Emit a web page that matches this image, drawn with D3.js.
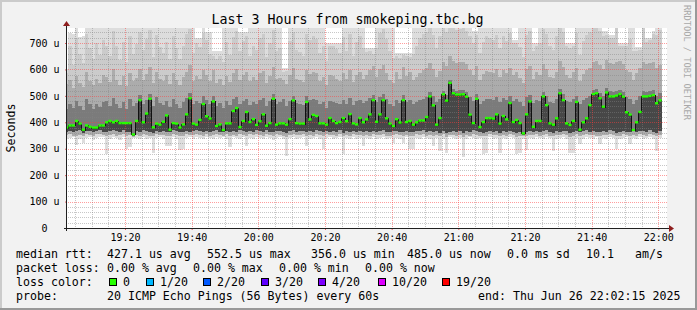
<!DOCTYPE html>
<html>
<head>
<meta charset="utf-8">
<script src="https://cdn.jsdelivr.net/npm/d3@7"></script>
<style>
html, body { margin: 0; padding: 0; background: #ffffff; }
svg { display: block; }
text { font-family: "DejaVu Sans Mono", monospace; }
</style>
</head>
<body>
<div id="chart"></div>
<script>

//******************************************************************************
//**  Data (microseconds, one entry per 60s step starting 19:02 UTC)
//******************************************************************************
var rttMedian = [
    380,388,388,405,395,372,388,383,380,380, 388,388,400,405,400,405,397,397,397,397,
    354,405,484,400,433,489,381,395,391,402, 426,372,397,395,380,392,430,491,395,391,
    409,469,423,414,479,386,392,371,396,396, 443,454,382,405,439,401,412,390,404,430,
    387,397,489,391,396,396,391,412,483,397, 395,395,477,411,428,424,396,396,391,416,
    405,397,401,416,404,431,396,392,416,400, 411,430,484,402,430,484,415,395,386,412,
    399,484,401,405,391,400,407,407,420,498, 464,391,416,506,482,549,510,505,505,506,
    497,429,397,489,382,401,416,416,414,430, 395,424,411,473,401,409,397,358,430,479,
    383,405,405,498,465,396,391,415,510,484, 396,390,405,477,372,400,415,465,507,510,
    491,459,513,498,498,501,507,497,438,429, 371,400,439,498,498,500,503,472,483
];

var rttMin = [
    336,340,344,314,338,322,342,345,334,340, 346,343,280,338,345,340,333,344,300,305,
    342,340,336,345,338,342,284,340,344,336, 312,310,345,338,296,300,342,344,338,346,
    340,335,344,342,338,345,340,343,336,306, 344,340,338,345,310,342,336,344,340,338,
    345,342,333,340,344,338,272,342,345,336, 340,344,310,338,342,345,336,300,340,344,
    338,342,345,280,340,336,344,338,342,310, 340,336,344,338,342,345,336,340,320,342,
    338,320,344,299,300,342,336,345,340,338, 310,342,292,338,283,344,340,336,342,270,
    338,344,340,336,342,280,282,345,338,340, 285,342,336,344,340,280,282,338,295,342,
    336,344,340,338,345,342,292,336,340,344, 338,283,285,342,318,336,344,340,338,345,
    318,342,336,344,340,299,338,342,345,318, 340,336,344,338,342,345,336,292,340
];

var rttP10 = [
    352,355,350,348,353,349,356,352,350,354, 355,351,348,353,356,350,352,354,349,351,
    346,353,350,355,352,349,347,354,351,353, 350,349,355,352,348,350,354,351,353,355,
    352,349,354,350,353,356,351,348,354,350, 353,350,355,352,349,354,351,356,352,350,
    355,351,348,354,352,350,346,353,355,351, 352,354,349,353,350,356,352,348,354,351,
    353,350,355,347,352,349,354,351,353,350, 352,349,354,351,353,355,350,348,352,354,
    351,350,353,348,349,354,352,356,350,353, 349,352,347,354,346,351,353,350,352,345,
    353,350,355,352,349,347,348,354,351,353, 347,352,350,354,351,346,348,350,349,353,
    351,354,350,352,355,350,347,353,351,354, 352,346,348,354,350,353,355,351,352,350,
    349,353,351,355,352,347,350,354,351,349, 353,350,354,352,348,355,351,347,353
];

var rttP25 = [
    365,368,364,366,370,360,368,366,364,367, 369,365,362,368,370,366,364,369,363,365,
    350,367,364,370,366,363,360,368,365,367, 364,362,369,366,362,364,368,365,367,369,
    366,363,368,364,367,370,365,362,368,364, 367,364,369,366,363,368,365,370,366,364,
    369,365,362,368,366,364,360,367,369,365, 366,368,363,367,364,370,366,362,368,365,
    367,364,369,361,366,363,368,365,367,364, 366,363,368,365,367,369,364,362,366,368,
    365,364,367,362,363,368,366,370,364,367, 363,366,361,368,360,365,367,364,366,359,
    367,364,369,366,363,361,362,368,365,367, 361,366,364,368,365,360,362,352,363,367,
    365,368,364,366,369,364,361,367,365,368, 366,360,362,368,364,367,369,365,366,364,
    363,367,365,369,366,361,364,368,365,363, 367,364,368,366,362,369,365,361,367
];

var rttP70 = [
    450,470,455,480,462,445,490,468,452,470, 458,475,480,460,492,470,455,478,450,488,
    462,474,505,468,486,508,460,495,472,466, 482,458,488,470,455,478,492,510,468,480,
    474,500,486,468,498,460,472,455,480,465, 490,496,470,482,488,465,478,470,485,492,
    462,480,506,470,476,488,460,482,500,474, 470,466,498,484,490,486,468,475,455,480,
    478,472,468,485,470,492,466,480,486,474, 482,492,505,478,495,506,488,470,462,485,
    472,502,478,486,470,476,484,490,495,515, 498,476,490,520,505,560,526,520,522,524,
    515,495,480,506,470,482,490,488,486,496, 478,492,486,500,482,488,475,462,495,505,
    472,486,480,515,498,478,474,490,525,506, 482,476,488,500,468,484,492,500,522,525,
    510,498,528,518,515,520,524,516,496,490, 470,486,500,520,516,518,522,500,510
];

var rttP85 = [
    545,560,530,575,550,535,590,555,540,565, 548,580,570,552,600,560,540,575,538,585,
    555,568,600,560,582,610,548,590,562,556, 578,545,586,560,540,570,592,615,555,575,
    565,598,580,556,596,548,562,540,575,552, 588,600,560,578,590,555,572,560,585,595,
    550,575,610,562,568,560,545,580,605,565, 560,552,598,582,592,585,558,570,540,578,
    575,565,558,588,562,596,552,578,590,565, 580,596,612,570,600,615,585,560,548,590,
    565,610,575,590,560,572,588,598,605,625, 600,570,595,630,612,650,632,625,628,630,
    620,598,578,612,560,582,595,590,586,600, 570,596,585,605,578,590,568,548,600,612,
    562,590,580,622,600,572,566,592,632,610, 580,568,590,605,555,582,598,606,628,632,
    615,600,635,625,620,628,632,622,598,590, 560,585,605,628,622,625,630,605,615
];

var rttP95 = [
    585,690,615,720,660,625,735,680,640,700, 655,710,690,650,745,690,635,705,628,725,
    660,695,740,672,715,748,648,730,685,662, 705,640,725,680,638,690,735,752,664,700,
    685,738,712,660,650,640,650,630,705,655, 722,745,668,706,728,650,690,672,718,735,
    648,700,748,668,680,590,595,706,742,675, 665,650,735,712,728,715,662,690,632,690,
    690,676,664,722,670,735,650,705,728,680, 665,670,660,682,736,752,715,668,645,650,
    645,655,650,648,660,688,718,735,742,756, 730,682,725,758,740,770,760,748,752,755,
    745,728,700,730,662,705,726,720,712,730, 680,728,706,738,700,700,685,648,730,745,
    668,690,700,752,735,690,675,725,762,740, 690,680,690,738,655,708,730,740,758,760,
    745,728,730,720,718,756,690,688,690,715, 670,670,672,758,705,710,735,732,748
];

var rttMax = [
    600,738,735,880,722,725,910,845,820,870, 835,960,880,815,990,870,830,905,812,940,
    850,890,1010,860,930,1050,828,970,875,842, 910,820,955,868,815,880,960,1080,852,720,
    720,985,740,740,668,668,668,805,925,838, 950,1020,740,740,740,830,880,852,945,990,
    826,900,1040,850,872,605,605,912,1010,865, 848,830,985,922,960,935,846,880,700,700,
    700,700,700,955,858,990,832,915,965,870, 680,680,680,875,990,1060,930,852,822,662,
    662,662,662,662,840,880,930,975,1000,1090, 980,870,950,1120,1010,1200,1130,1040,1060,1080,
    1020,975,745,745,845,910,955,940,925,985, 865,960,915,1000,710,710,880,820,975,1030,
    700,700,915,1060,990,890,860,950,1110,1020, 700,700,700,1000,828,915,975,1010,1090,1110,
    1030,745,745,732,732,1050,700,700,700,920, 860,685,685,1080,720,720,745,960,1010
];

var yTicks = [0, 100, 200, 300, 400, 500, 600, 700];
var medianStats = ["427.1 us avg", "552.5 us max", "356.0 us min", "485.0 us now", "0.0 ms sd", "10.1", "am/s"];
var lossStats = ["0.00 % avg", "0.00 % max", "0.00 % min", "0.00 % now"];
var lossLabels = ["0", "1/20", "2/20", "3/20", "4/20", "10/20", "19/20"];
var lossColors = ["#26ff00", "#00b8ff", "#0059ff", "#5e00ff", "#7e00ff", "#dd00ff", "#ff0000"];


//******************************************************************************
//**  SmokeChart
//******************************************************************************
var width = 697, height = 310;
var plot = { left: 67, top: 28, right: 667, bottom: 228 };

var t0 = new Date(Date.UTC(2025, 5, 26, 19, 2, 36));
var t1 = new Date(Date.UTC(2025, 5, 26, 22, 2, 36));
var stepStart = function(i){ return new Date(Date.UTC(2025, 5, 26, 19, 2 + i, 0)); };
var stepEnd = function(i){ return new Date(Date.UTC(2025, 5, 26, 19, 3 + i, 0)); };

var x = d3.scaleUtc().domain([t0, t1]).range([plot.left, plot.right]);
var y = d3.scaleLinear().domain([0, 756.8]).range([plot.bottom, plot.top]);

var svg = d3.select("#chart").append("svg")
    .attr("width", width)
    .attr("height", height);

//Dotted patterns for the grid (1px on, 1px off)
var defs = svg.append("defs");
var addDots = function(id, w, h, color){
    defs.append("pattern")
        .attr("id", id)
        .attr("patternUnits", "userSpaceOnUse")
        .attr("width", w).attr("height", h)
      .append("rect")
        .attr("width", 1).attr("height", 1)
        .attr("fill", color);
};
addDots("minorV", 1, 2, "rgba(130,130,130,0.45)");
addDots("minorH", 2, 1, "rgba(130,130,130,0.45)");
addDots("majorV", 1, 2, "rgba(255,60,60,0.5)");
addDots("majorH", 2, 1, "rgba(255,60,60,0.5)");

//Background and 3D frame
svg.append("rect").attr("width", width).attr("height", height).attr("fill", "#f2f2f2");
svg.append("path").attr("d", "M0,0 H697 V2 H2 V310 H0 Z").attr("fill", "#cbcbcb");
svg.append("path").attr("d", "M697,0 V310 H0 V308 H695 V0 Z").attr("fill", "#999999");
svg.append("rect")
    .attr("x", plot.left).attr("y", plot.top)
    .attr("width", plot.right - plot.left).attr("height", plot.bottom - plot.top)
    .attr("fill", "#ffffff");

defs.append("clipPath").attr("id", "plotClip")
  .append("rect")
    .attr("x", plot.left).attr("y", plot.top)
    .attr("width", plot.right - plot.left).attr("height", plot.bottom - plot.top);


//Smoke bands, lightest (outermost pings) first
var bands = [
    { lo: rttMin, hi: rttMax, color: "#dddddd" },
    { lo: rttP10, hi: rttP95, color: "#cbcbcb" },
    { lo: rttP10, hi: rttP85, color: "#acacac" },
    { lo: rttP25, hi: rttP70, color: "#7b7b7b" },
    { lo: rttP25, hi: rttMedian, color: "#474747" }
];

var smoke = svg.append("g").attr("clip-path", "url(#plotClip)").attr("shape-rendering", "crispEdges");
bands.forEach(function(band){
    smoke.append("g").selectAll("rect")
      .data(d3.range(rttMedian.length))
      .enter()
      .append("rect")
        .attr("x", function(i){ return x(stepStart(i)); })
        .attr("width", function(i){ return x(stepEnd(i)) - x(stepStart(i)); })
        .attr("y", function(i){ return y(band.hi[i]); })
        .attr("height", function(i){ return y(band.lo[i]) - y(band.hi[i]); })
        .attr("fill", band.color);
});


//Grid
var majorTimes = d3.utcMinute.every(20).range(t0, t1);
var minorTimes = d3.utcMinute.every(5).range(t0, t1).filter(function(t){ return t.getUTCMinutes() % 20 !== 0; });
var minorValues = d3.range(20, 757, 20).filter(function(v){ return v % 100 !== 0; });
var majorValues = yTicks.filter(function(v){ return v > 0; });

var px = function(v){ return Math.round(v) + 0.5; };
var grid = svg.append("g").attr("shape-rendering", "crispEdges");

var vLines = function(times, fill){
    grid.append("g").selectAll("rect").data(times).enter().append("rect")
        .attr("x", function(t){ return Math.round(x(t)); })
        .attr("width", 1)
        .attr("y", plot.top).attr("height", plot.bottom - plot.top)
        .attr("fill", fill);
};
var hLines = function(values, fill){
    grid.append("g").selectAll("rect").data(values).enter().append("rect")
        .attr("y", function(v){ return Math.round(y(v)); })
        .attr("height", 1)
        .attr("x", plot.left).attr("width", plot.right - plot.left)
        .attr("fill", fill);
};
hLines(minorValues, "url(#minorH)");
vLines(minorTimes, "url(#minorV)");
hLines(majorValues, "url(#majorH)");
vLines(majorTimes, "url(#majorV)");


//Median line: dark step line, then loss-coloured segments
var medianLine = d3.line()
    .x(function(d){ return x(d.t); })
    .y(function(d){ return px(y(d.v)); })
    .curve(d3.curveStepAfter);
var medianPts = rttMedian.map(function(v, i){ return { t: stepStart(i), v: v }; });
medianPts.push({ t: stepEnd(rttMedian.length - 1), v: rttMedian[rttMedian.length - 1] });

var med = svg.append("g").attr("clip-path", "url(#plotClip)");
med.append("path")
    .attr("d", medianLine(medianPts))
    .attr("fill", "none")
    .attr("stroke", "#111111")
    .attr("stroke-width", 1)
    .attr("shape-rendering", "crispEdges");
med.selectAll(".seg")
    .data(d3.range(rttMedian.length))
    .enter()
    .append("rect")
      .attr("x", function(i){ return x(stepStart(i)); })
      .attr("width", function(i){ return x(stepEnd(i)) - x(stepStart(i)); })
      .attr("y", function(i){ return y(rttMedian[i]) - 1.2; })
      .attr("height", 2.4)
      .attr("fill", lossColors[0]);


//Axes
var fmt = d3.utcFormat("%H:%M");
var xAxis = svg.append("g")
    .attr("transform", "translate(0," + plot.bottom + ")")
    .call(d3.axisBottom(x).tickValues(majorTimes).tickFormat(fmt).tickSize(2).tickPadding(3.6));
xAxis.select(".domain").remove();
xAxis.selectAll(".tick line").attr("stroke", "#e06060");
xAxis.selectAll("text").attr("font-size", "10px").attr("fill", "#000");

var yAxis = svg.append("g")
    .attr("transform", "translate(" + plot.left + ",0)")
    .call(d3.axisLeft(y).tickValues(yTicks)
        .tickFormat(function(v){ return v === 0 ? "0" : v + " u"; })
        .tickSize(2).tickPadding(5.5));
yAxis.select(".domain").remove();
yAxis.selectAll(".tick line").attr("stroke", "#e06060");
yAxis.selectAll("text")
    .attr("font-size", "10px").attr("fill", "#000")
    .attr("dx", function(v){ return v === 0 ? -12 : 0; });

svg.append("line")
    .attr("x1", plot.left - 3).attr("x2", plot.right + 3)
    .attr("y1", plot.bottom + 0.5).attr("y2", plot.bottom + 0.5)
    .attr("stroke", "#202020");
svg.append("line")
    .attr("x1", plot.left - 0.5).attr("x2", plot.left - 0.5)
    .attr("y1", plot.bottom + 3).attr("y2", plot.top - 4)
    .attr("stroke", "#202020");
svg.append("path")
    .attr("d", "M" + (plot.right + 2) + "," + (plot.bottom - 3) + " L" + (plot.right + 7) + "," + (plot.bottom + 0.5) + " L" + (plot.right + 2) + "," + (plot.bottom + 4) + " Z")
    .attr("fill", "#8f1f1f");
svg.append("path")
    .attr("d", "M" + (plot.left - 4) + "," + (plot.top - 2) + " L" + (plot.left - 0.5) + "," + (plot.top - 7) + " L" + (plot.left + 3) + "," + (plot.top - 2) + " Z")
    .attr("fill", "#8f1f1f");


//Titles
svg.append("text")
    .attr("x", 347.5).attr("y", 24.3)
    .attr("text-anchor", "middle")
    .attr("font-size", "13.3px")
    .text("Last 3 Hours from smokeping.tbc.bg");

svg.append("text")
    .attr("transform", "translate(14.5,128) rotate(-90)")
    .attr("text-anchor", "middle")
    .attr("font-size", "11.6px")
    .text("Seconds");

svg.append("text")
    .attr("transform", "translate(684,5) rotate(90)")
    .attr("font-size", "8.7px")
    .attr("fill", "#a8a8a8")
    .text("RRDTOOL / TOBI OETIKER");


//Legend
var legend = svg.append("g").attr("font-size", "11.6px").attr("fill", "#000");
var addText = function(tx, ty, s){
    legend.append("text").attr("x", tx).attr("y", ty).text(s);
};

var medianX = [107, 207, 311, 407, 507, 586, 635];
var lossX = [107, 193, 279, 365];
var boxX = [109, 146, 203, 261, 318, 378, 442];

addText(16, 258, "median rtt:");
medianStats.forEach(function(s, i){ addText(medianX[i], 258, s); });

addText(16, 272, "packet loss:");
lossStats.forEach(function(s, i){ addText(lossX[i], 272, s); });

addText(16, 286, "loss color:");
lossLabels.forEach(function(s, i){
    legend.append("rect")
        .attr("x", boxX[i] + 0.5).attr("y", 278.5)
        .attr("width", 7).attr("height", 7)
        .attr("fill", lossColors[i])
        .attr("stroke", "#000");
    addText(boxX[i] + 14, 286, s);
});

addText(16, 300, "probe:");
addText(107, 300, "20 ICMP Echo Pings (56 Bytes) every 60s");
addText(478, 300, "end: Thu Jun 26 22:02:15 2025");

</script>
</body>
</html>
